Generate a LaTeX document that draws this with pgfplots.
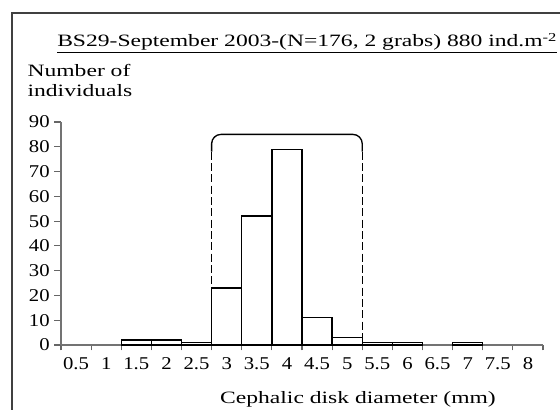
\documentclass[border=0pt]{standalone}
\usepackage{fontspec}
\setmainfont{Liberation Serif}
\newfontfamily\widefont{Liberation Serif}[FakeStretch=1.36]
\newfontfamily\tickfont{Liberation Serif}[FakeStretch=1.15]
\usepackage{pgfplots}
\pgfplotsset{compat=1.18}
\begin{document}
\begin{tikzpicture}
\useasboundingbox (0,0) rectangle (420pt,-307.5pt);
\fill[white] (0,0) rectangle (420pt,-307.5pt);
\draw[line width=1.2pt, black!75] (9pt,-9.75pt) rectangle (440pt,-330pt);
\node[anchor=base west, inner sep=0pt, font=\widefont\fontsize{13}{15}\selectfont] at (42.75pt,-35.25pt)
  {\underline{BS29-September 2003-(N=176, 2 grabs) 880 ind.m\textsuperscript{-2}}};
\node[anchor=base west, inner sep=0pt, font=\widefont\fontsize{13}{15}\selectfont] at (20.5pt,-57.75pt) {Number of};
\node[anchor=base west, inner sep=0pt, font=\widefont\fontsize{13}{15}\selectfont] at (20.5pt,-72.75pt) {individuals};
\node[anchor=base, inner sep=0pt, font=\widefont\fontsize{13}{15}\selectfont] at (268.5pt,-302.25pt) {Cephalic disk diameter (mm)};
\begin{axis}[
  at={(45.75pt,-258.75pt)}, anchor=south west,
  scale only axis, width=361.5pt, height=167.25pt,
  xmin=-0.5, xmax=15.5, ymin=0, ymax=90,
  axis x line=bottom, axis y line=left,
  axis line style={-, black!55, line width=0.9pt},
  xtick={0,...,15},
  xticklabels={0.5,1,1.5,2,2.5,3,3.5,4,4.5,5,5.5,6,6.5,7,7.5,8},
  minor xtick={-0.5,0.5,...,15.5},
  major x tick style={draw=none},
  minor x tick style={black!60, line width=0.9pt},
  ytick={0,10,...,90},
  y tick style={black!60, line width=0.9pt},
  tick align=outside,
  minor tick length=4pt,
  major tick length=5pt,
  /pgf/number format/assume math mode=true,
  tick label style={font=\tickfont\fontsize{13.5}{15}\selectfont},
  xticklabel style={anchor=base, yshift=-13pt},
  yticklabel style={anchor=east, xshift=0pt},
  ybar, bar width=1, bar shift=0pt,
  clip=false,
]
\addplot[fill=white, draw=black, line width=1pt] coordinates {
  (2,2) (3,2) (4,1) (5,23) (6,52) (7,79) (8,11) (9,3) (10,1) (11,1) (13,1)
};
\draw[line width=1pt, rounded corners=7pt] (axis cs:4.5,78) -- (axis cs:4.5,85) -- (axis cs:9.5,85) -- (axis cs:9.5,78);
\draw[line width=1pt, dash pattern=on 6pt off 2.5pt] (axis cs:4.5,78) -- (axis cs:4.5,0);
\draw[line width=1pt, dash pattern=on 6pt off 2.5pt] (axis cs:9.5,78) -- (axis cs:9.5,0);
\end{axis}
\end{tikzpicture}
\end{document}
